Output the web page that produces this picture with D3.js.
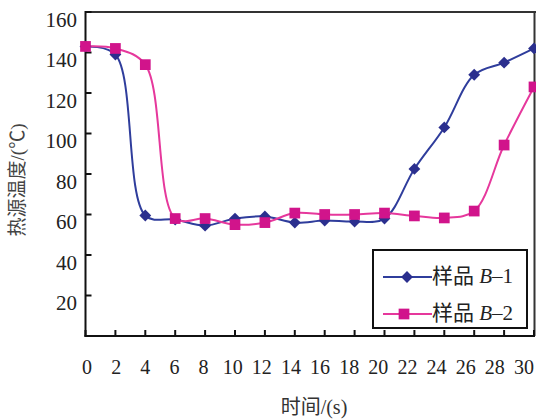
<!DOCTYPE html>
<html>
  <head>
	<meta charset="utf-8">
	<title>热源温度</title>
	<script src="https://cdn.jsdelivr.net/npm/d3@7/dist/d3.min.js" type="text/javascript" charset="utf-8"></script>
	<style>
	  body { margin: 0; background: #fff; }
	  svg { display: block; }
	</style>
  </head>
  <body>
	<svg></svg>
  </body>
  <script type="text/javascript">
	// data
	var times = [0, 2, 4, 6, 8, 10, 12, 14, 16, 18, 20, 22, 24, 26, 28, 30];
	var sampleB1 = [143, 139, 59.5, 57.5, 54.5, 58, 59, 56, 57, 56.5, 58, 82.5, 103, 129, 135, 142];
	var sampleB2 = [143, 142, 134, 58, 58, 55, 56, 60.7, 60, 60, 60.7, 59.3, 58.3, 61.7, 94.3, 123];
	var yTicks = [20, 40, 60, 80, 100, 120, 140, 160];
	var seriesNames = ['B-1', 'B-2'];

	(function() {
	  var svg = d3.select('svg')
				.attr('width', 536)
				.attr('height', 420);
	  var serif = '"Liberation Serif", "Times New Roman", "Noto Sans CJK SC", serif';
	  var cjk = '"Liberation Serif", "Noto Sans CJK SC", serif';

	  var x = d3.scaleLinear().domain([0, 30]).range([85.5, 534]);
	  // the tick labels in the original sit a little left of the ticks
	  var xLabel = d3.scaleLinear().domain([0, 30]).range([87, 524]);
	  var y = d3.scaleLinear().domain([0, 160]).range([336, 12]);

	  var series = [
		{name: seriesNames[0], values: sampleB1, line: '#2f3d9c', mark: '#2b2f8e', symbol: 'diamond'},
		{name: seriesNames[1], values: sampleB2, line: '#e6389c', mark: '#d1148b', symbol: 'square'}
	  ];

	  // frame
	  svg.append('line')
		 .attr('x1', x(0)).attr('x2', 536)
		 .attr('y1', y(160)).attr('y2', y(160))
		 .attr('stroke', '#333').attr('stroke-width', 2);
	  svg.append('line')
		 .attr('x1', 534.5).attr('x2', 534.5)
		 .attr('y1', y(160)).attr('y2', y(0))
		 .attr('stroke', '#333').attr('stroke-width', 2);

	  // y axis, ticks pointing inward
	  var yAxis = svg.append('g');
	  yAxis.append('line')
		   .attr('x1', x(0)).attr('x2', x(0))
		   .attr('y1', y(160) - 1).attr('y2', y(0) + 1)
		   .attr('stroke', '#111').attr('stroke-width', 2);
	  yAxis.selectAll('.ytick')
		   .data(yTicks)
		   .enter()
		   .append('line')
		   .attr('class', 'ytick')
		   .attr('x1', x(0)).attr('x2', x(0) + 6)
		   .attr('y1', function(d) { return y(d); })
		   .attr('y2', function(d) { return y(d); })
		   .attr('stroke', '#111').attr('stroke-width', 2);
	  yAxis.selectAll('.ylabel')
		   .data(yTicks)
		   .enter()
		   .append('text')
		   .attr('class', 'ylabel')
		   .attr('x', 77)
		   .attr('y', function(d) { return y(d) + 14.5; })
		   .attr('text-anchor', 'end')
		   .attr('font-family', serif)
		   .attr('font-size', 21)
		   .attr('fill', '#222')
		   .text(function(d) { return d; });

	  // x axis
	  var xAxis = svg.append('g');
	  xAxis.append('line')
		   .attr('x1', x(0) - 1).attr('x2', 535)
		   .attr('y1', y(0)).attr('y2', y(0))
		   .attr('stroke', '#111').attr('stroke-width', 2);
	  xAxis.selectAll('.xtick')
		   .data(times)
		   .enter()
		   .append('line')
		   .attr('class', 'xtick')
		   .attr('x1', function(d) { return x(d); })
		   .attr('x2', function(d) { return x(d); })
		   .attr('y1', y(0)).attr('y2', y(0) - 6)
		   .attr('stroke', '#111').attr('stroke-width', 2);
	  xAxis.selectAll('.xlabel')
		   .data(times)
		   .enter()
		   .append('text')
		   .attr('class', 'xlabel')
		   .attr('x', function(d) { return xLabel(d); })
		   .attr('y', 374)
		   .attr('text-anchor', 'middle')
		   .attr('font-family', serif)
		   .attr('font-size', 20)
		   .attr('fill', '#222')
		   .text(function(d) { return d; });

	  // axis titles
	  svg.append('text')
		 .attr('transform', 'translate(24,180) rotate(-90)')
		 .attr('text-anchor', 'middle')
		 .attr('font-family', cjk)
		 .attr('font-size', 19)
		 .attr('fill', '#444')
		 .text('热源温度/(℃)');
	  svg.append('text')
		 .attr('x', 314)
		 .attr('y', 414)
		 .attr('text-anchor', 'middle')
		 .attr('font-family', cjk)
		 .attr('font-size', 20)
		 .attr('fill', '#333')
		 .text('时间/(s)');

	  // lines
	  var line = d3.line()
				   .x(function(d, i) { return x(times[i]); })
				   .y(function(d) { return y(d); })
				   .curve(d3.curveCatmullRom.alpha(0.5));

	  var symbols = {
		diamond: d3.symbol().type(d3.symbolSquare).size(70),
		square: d3.symbol().type(d3.symbolSquare).size(115)
	  };

	  series.forEach(function(s) {
		svg.append('path')
		   .attr('d', line(s.values))
		   .attr('fill', 'none')
		   .attr('stroke', s.line)
		   .attr('stroke-width', 2);
	  });
	  series.forEach(function(s) {
		svg.selectAll('.mark-' + s.symbol)
		   .data(s.values)
		   .enter()
		   .append('path')
		   .attr('class', 'mark-' + s.symbol)
		   .attr('d', symbols[s.symbol]())
		   .attr('transform', function(d, i) {
			 return 'translate(' + x(times[i]) + ',' + y(d) + ')' + (s.symbol === 'diamond' ? ' rotate(45)' : '');
		   })
		   .attr('fill', s.mark);
	  });

	  // legend
	  var legend = svg.append('g');
	  legend.append('rect')
			.attr('x', 373).attr('y', 250)
			.attr('width', 154).attr('height', 78)
			.attr('fill', '#fff')
			.attr('stroke', '#111')
			.attr('stroke-width', 2);
	  var rows = legend.selectAll('.row')
					   .data(series)
					   .enter()
					   .append('g')
					   .attr('class', 'row')
					   .attr('transform', function(d, i) { return 'translate(0,' + (277 + i * 37) + ')'; });
	  rows.append('line')
		  .attr('x1', 383).attr('x2', 432)
		  .attr('y1', 0).attr('y2', 0)
		  .attr('stroke', function(d) { return d.line; })
		  .attr('stroke-width', 2);
	  rows.append('path')
		  .attr('d', function(d) { return symbols[d.symbol](); })
		  .attr('transform', function(d) {
			return d.symbol === 'diamond' ? 'translate(407,0) rotate(45)' : 'translate(404,0)';
		  })
		  .attr('fill', function(d) { return d.mark; });
	  var label = rows.append('text')
					  .attr('x', 432)
					  .attr('y', 6)
					  .attr('font-family', cjk)
					  .attr('font-size', 21)
					  .attr('fill', '#222');
	  label.append('tspan').text('样品 ');
	  label.append('tspan').attr('font-style', 'italic').text('B');
	  label.append('tspan').text(function(d) { return '–' + d.name.split('-')[1]; });
	})();
  </script>
</html>
